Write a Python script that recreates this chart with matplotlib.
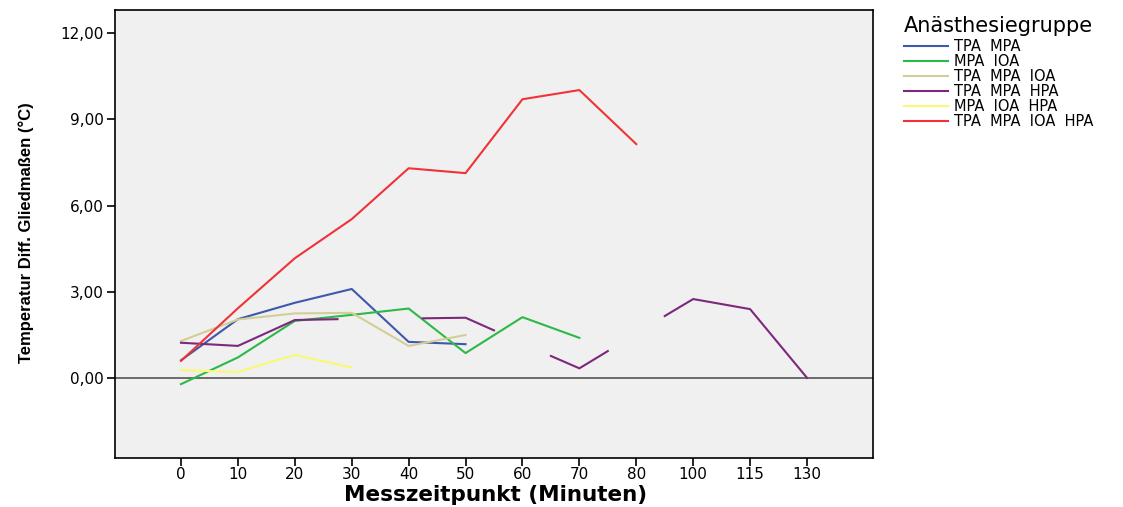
import numpy as np
import matplotlib
matplotlib.use("Agg")
import matplotlib.pyplot as plt

# Categories on the x axis (minutes)
categories = [0, 10, 20, 30, 40, 50, 60, 70, 80, 100, 115, 130]

# Series: (minutes, values); NaN breaks the line
tpa_mpa_x = [0, 10, 20, 30, 40, 50]
tpa_mpa_y = [0.62, 2.05, 2.62, 3.10, 1.26, 1.18]

mpa_ioa_x = [0, 10, 20, 30, 40, 50, 60, 70]
mpa_ioa_y = [-0.21, 0.72, 1.99, 2.20, 2.42, 0.87, 2.12, 1.40]

tpa_mpa_ioa_x = [0, 10, 20, 30, 40, 50]
tpa_mpa_ioa_y = [1.29, 2.04, 2.25, 2.27, 1.12, 1.50]

tpa_mpa_hpa_x = [0, 10, 20, 27.5, np.nan, 42.5, 50, 55, np.nan,
                 65, 70, 75, np.nan, 90, 100, 115, 130]
tpa_mpa_hpa_y = [1.23, 1.12, 2.02, 2.05, np.nan, 2.08, 2.10, 1.66, np.nan,
                 0.77, 0.34, 0.94, np.nan, 2.16, 2.75, 2.40, 0.01]

mpa_ioa_hpa_x = [0, 10, 20, 30]
mpa_ioa_hpa_y = [0.28, 0.21, 0.81, 0.37]

tpa_mpa_ioa_hpa_x = [0, 10, 20, 30, 40, 50, 60, 70, 80]
tpa_mpa_ioa_hpa_y = [0.60, 2.43, 4.17, 5.53, 7.30, 7.13, 9.70, 10.02, 8.14]

labels = ["TPA  MPA", "MPA  IOA", "TPA  MPA  IOA", "TPA  MPA  HPA",
          "MPA  IOA  HPA", "TPA  MPA  IOA  HPA"]
colors = ["#3E58AC", "#2EB848", "#D3CE97", "#7C287D", "#FBF873", "#EF3338"]
series = [(tpa_mpa_x, tpa_mpa_y), (mpa_ioa_x, mpa_ioa_y),
          (tpa_mpa_ioa_x, tpa_mpa_ioa_y), (tpa_mpa_hpa_x, tpa_mpa_hpa_y),
          (mpa_ioa_hpa_x, mpa_ioa_hpa_y), (tpa_mpa_ioa_hpa_x, tpa_mpa_ioa_hpa_y)]

y_ticks = [0, 3, 6, 9, 12]

plt.rcParams['font.family'] = ['DejaVu Sans']

fig = plt.figure(figsize=(11.23, 5.07), dpi=100)
ax = fig.add_axes([0.1024, 0.0966, 0.6750, 0.8834])
ax.set_facecolor("#F0F0F0")

cat_idx = np.arange(len(categories))

def to_pos(mins):
    m = np.asarray(mins, dtype=float)
    out = np.interp(m, categories, cat_idx)
    out[np.isnan(m)] = np.nan
    return out

ax.axhline(0, color="#555555", lw=1.2, zorder=1)

for (xs, ys), lab, c in zip(series, labels, colors):
    ax.plot(to_pos(xs), ys, color=c, lw=1.5, label=lab, zorder=2)

ax.set_xlim(-1.16, 12.16)
ax.set_ylim(-2.78, 12.8)
ax.set_xticks(cat_idx)
ax.set_xticklabels([str(c) for c in categories], fontsize=11)
ax.set_yticks(y_ticks)
ax.set_yticklabels([f"{v:.2f}".replace(".", ",") for v in y_ticks], fontsize=11)
ax.tick_params(axis='both', direction='out', length=6, width=1.2, color='black')
ax.tick_params(axis='x', pad=0.5)
ax.tick_params(axis='y', pad=2)
for sp in ax.spines.values():
    sp.set_linewidth(1.2)
    sp.set_color('black')

fig.text(0.441, 0.024, "Messzeitpunkt (Minuten)", fontsize=15.5,
         fontweight='bold', ha='center', va='center')
fig.text(0.023, 0.542, "Temperatur Diff. Gliedmaßen (°C)", rotation=90,
         fontsize=12, fontweight='bold', family=['Liberation Sans'],
         va='center', ha='center')

leg = ax.legend(loc='upper left', bbox_to_anchor=(0.805, 0.968),
                bbox_transform=fig.transFigure, frameon=False,
                title="Anästhesiegruppe", title_fontsize=15,
                fontsize=10.5, handlelength=3.0, handletextpad=0.45,
                labelspacing=0.0, borderaxespad=0, borderpad=0)
leg._legend_box.align = "left"
leg._legend_box.sep = 2

fig.savefig("out.png", dpi=100)
